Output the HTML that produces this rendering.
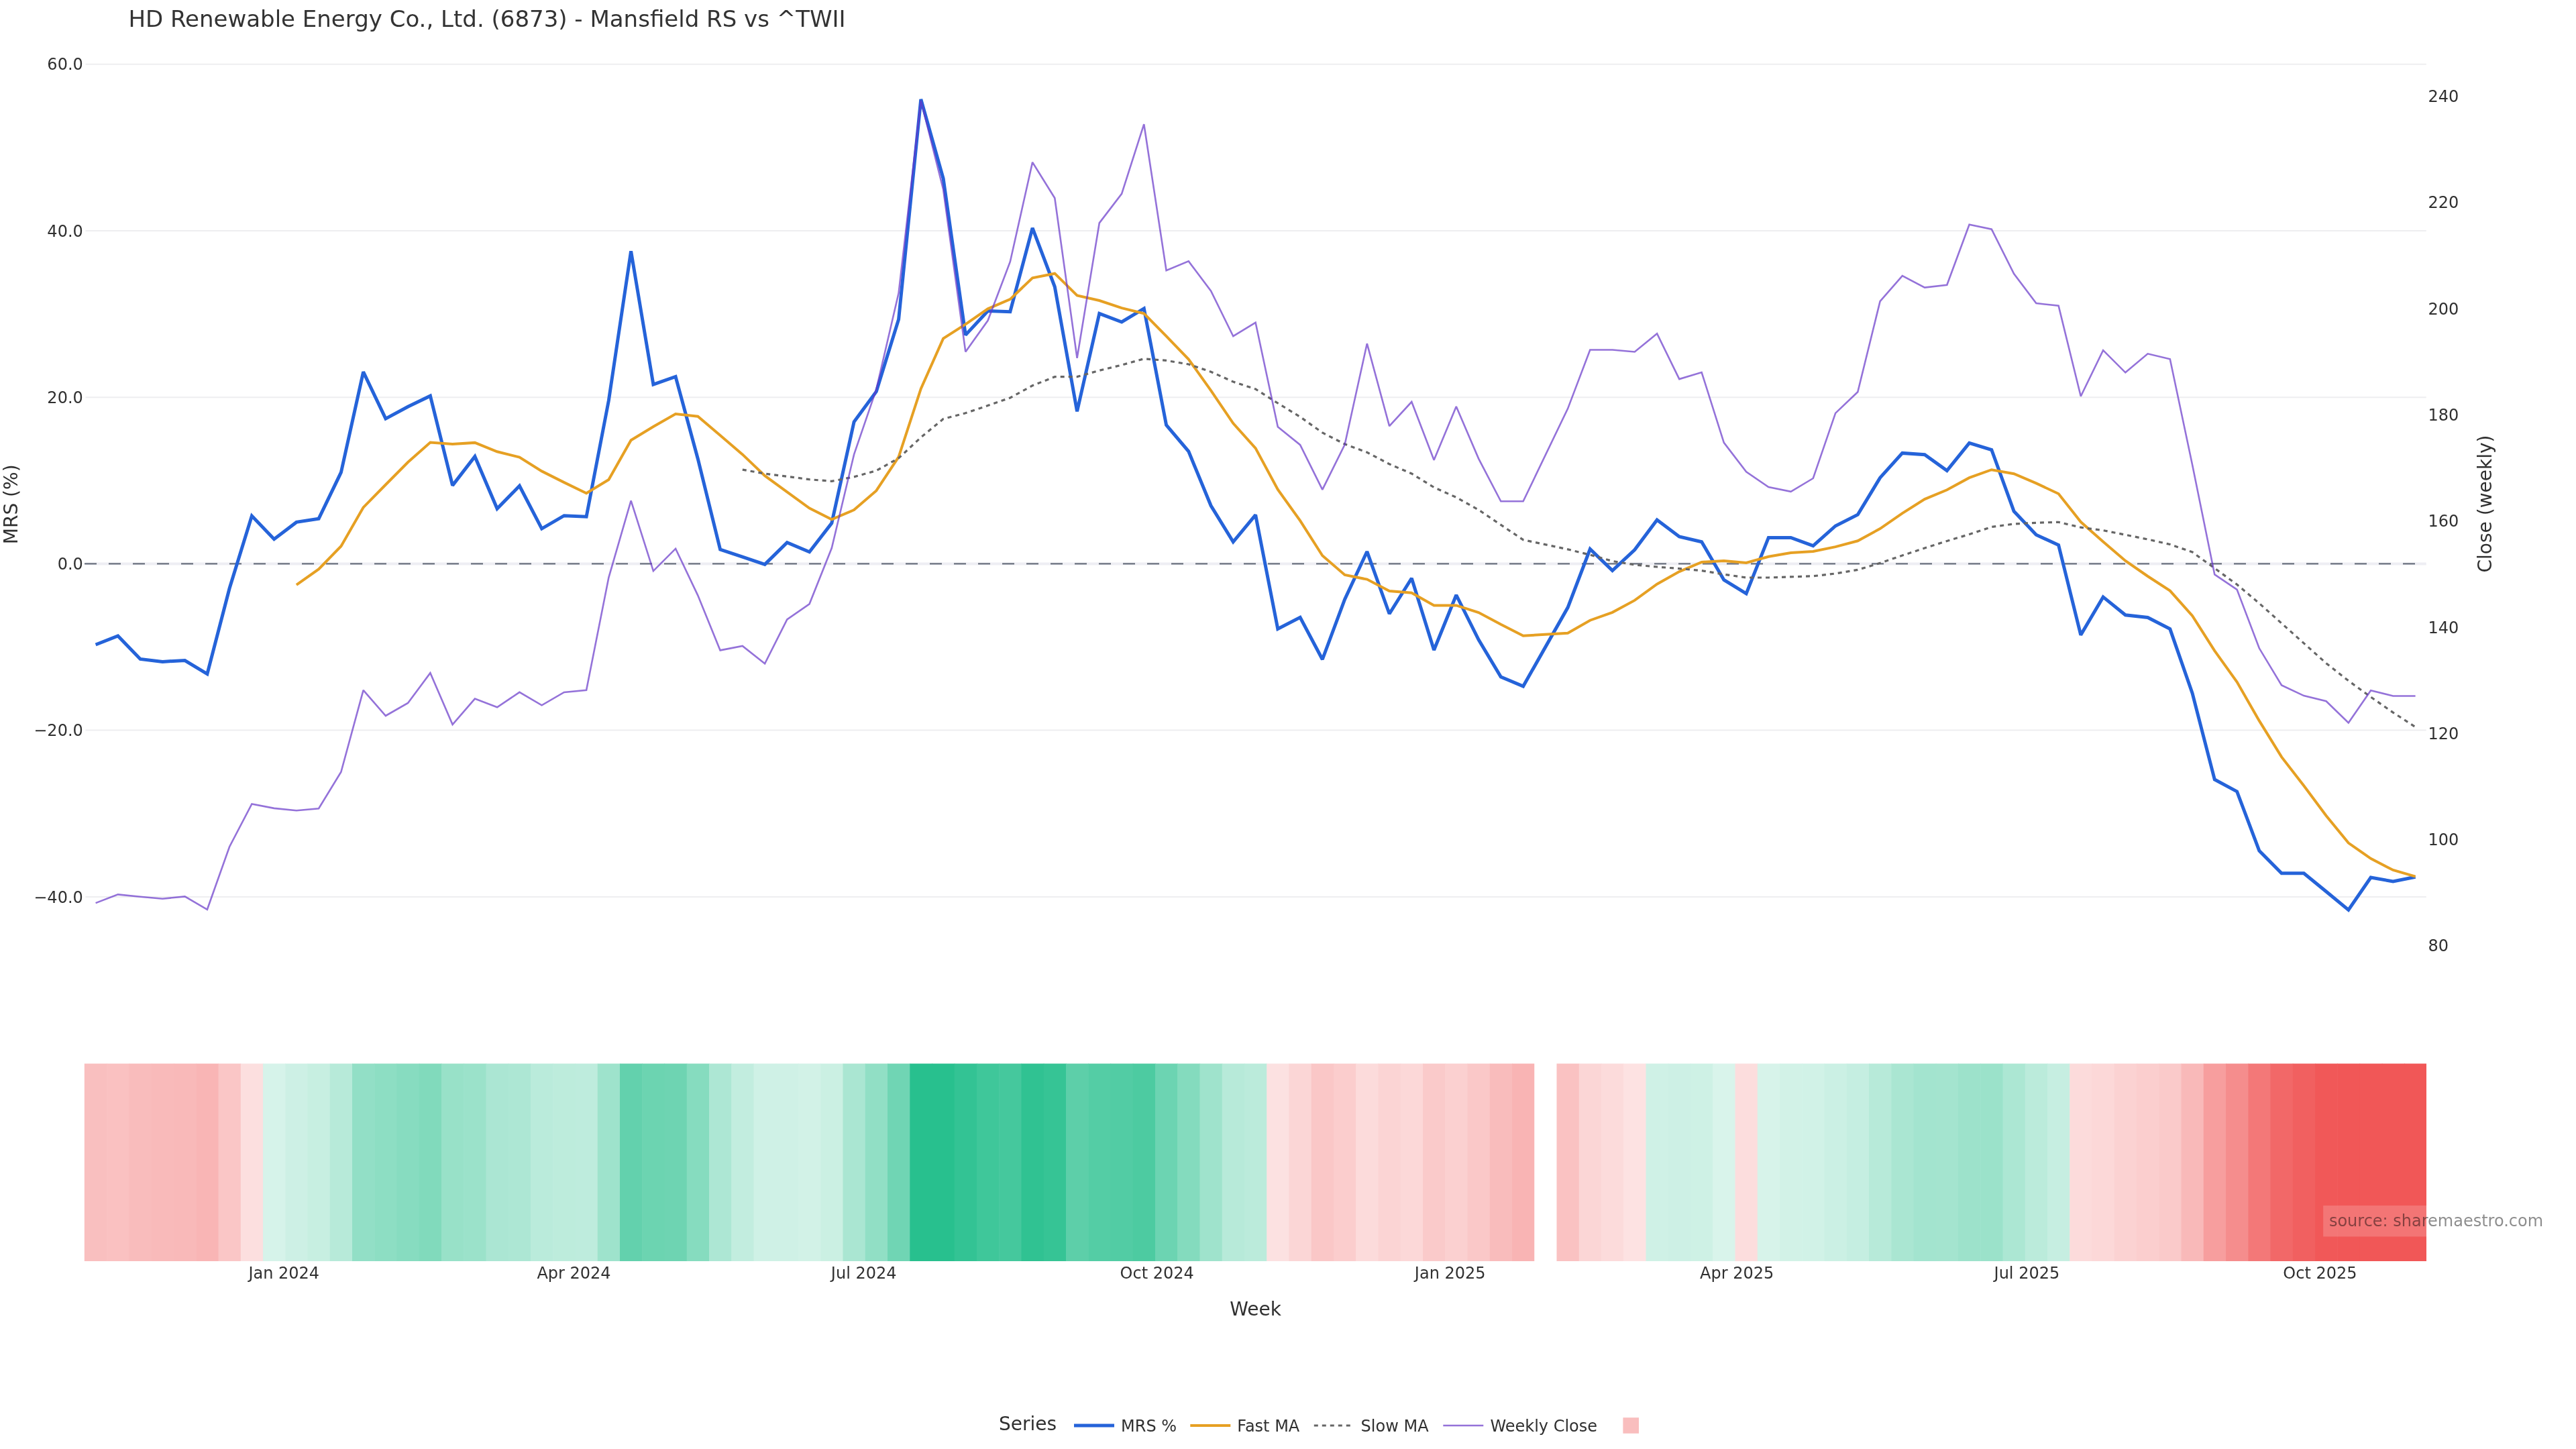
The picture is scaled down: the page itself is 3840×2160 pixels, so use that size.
<!DOCTYPE html>
<html lang="en"><head><meta charset="utf-8"><title>HD Renewable Energy Co., Ltd. (6873) - Mansfield RS vs ^TWII</title>
<style>html,body{margin:0;padding:0;background:#fff}svg{display:block;will-change:transform}text{font-family:"DejaVu Sans","Liberation Sans",sans-serif}</style></head><body>
<svg width="3840" height="2160" viewBox="0 0 3840 2160">
<rect width="3840" height="2160" fill="#fff"/>
<g>
<rect x="125.80" y="1585.5" width="34.05" height="294.5" fill="rgb(249,191,191)"/>
<rect x="159.25" y="1585.5" width="33.85" height="294.5" fill="rgb(250,193,193)"/>
<rect x="192.50" y="1585.5" width="33.85" height="294.5" fill="rgb(249,188,188)"/>
<rect x="225.75" y="1585.5" width="33.85" height="294.5" fill="rgb(249,186,186)"/>
<rect x="259.00" y="1585.5" width="33.85" height="294.5" fill="rgb(249,185,185)"/>
<rect x="292.25" y="1585.5" width="33.85" height="294.5" fill="rgb(249,181,181)"/>
<rect x="325.50" y="1585.5" width="33.85" height="294.5" fill="rgb(250,198,198)"/>
<rect x="358.75" y="1585.5" width="33.85" height="294.5" fill="rgb(252,223,223)"/>
<rect x="392.00" y="1585.5" width="33.85" height="294.5" fill="rgb(214,243,234)"/>
<rect x="425.25" y="1585.5" width="33.85" height="294.5" fill="rgb(205,240,229)"/>
<rect x="458.50" y="1585.5" width="33.85" height="294.5" fill="rgb(199,239,225)"/>
<rect x="491.75" y="1585.5" width="33.85" height="294.5" fill="rgb(183,234,217)"/>
<rect x="525.00" y="1585.5" width="33.85" height="294.5" fill="rgb(146,223,198)"/>
<rect x="558.25" y="1585.5" width="33.85" height="294.5" fill="rgb(141,222,195)"/>
<rect x="591.50" y="1585.5" width="33.85" height="294.5" fill="rgb(135,220,192)"/>
<rect x="624.75" y="1585.5" width="33.85" height="294.5" fill="rgb(129,218,188)"/>
<rect x="658.00" y="1585.5" width="33.85" height="294.5" fill="rgb(152,225,200)"/>
<rect x="691.25" y="1585.5" width="33.85" height="294.5" fill="rgb(155,226,202)"/>
<rect x="724.50" y="1585.5" width="33.85" height="294.5" fill="rgb(171,230,211)"/>
<rect x="757.75" y="1585.5" width="33.85" height="294.5" fill="rgb(173,231,212)"/>
<rect x="791.00" y="1585.5" width="33.85" height="294.5" fill="rgb(186,235,219)"/>
<rect x="824.25" y="1585.5" width="33.85" height="294.5" fill="rgb(189,236,220)"/>
<rect x="857.50" y="1585.5" width="33.85" height="294.5" fill="rgb(190,236,221)"/>
<rect x="890.75" y="1585.5" width="33.85" height="294.5" fill="rgb(158,227,204)"/>
<rect x="924.00" y="1585.5" width="33.85" height="294.5" fill="rgb(99,209,173)"/>
<rect x="957.25" y="1585.5" width="33.85" height="294.5" fill="rgb(108,212,177)"/>
<rect x="990.50" y="1585.5" width="33.85" height="294.5" fill="rgb(110,212,178)"/>
<rect x="1023.75" y="1585.5" width="33.85" height="294.5" fill="rgb(134,220,191)"/>
<rect x="1057.00" y="1585.5" width="33.85" height="294.5" fill="rgb(173,231,212)"/>
<rect x="1090.25" y="1585.5" width="33.85" height="294.5" fill="rgb(194,237,223)"/>
<rect x="1123.50" y="1585.5" width="33.85" height="294.5" fill="rgb(207,241,230)"/>
<rect x="1156.75" y="1585.5" width="33.85" height="294.5" fill="rgb(207,241,230)"/>
<rect x="1190.00" y="1585.5" width="33.85" height="294.5" fill="rgb(210,242,231)"/>
<rect x="1223.25" y="1585.5" width="33.85" height="294.5" fill="rgb(203,240,227)"/>
<rect x="1256.50" y="1585.5" width="33.85" height="294.5" fill="rgb(170,230,210)"/>
<rect x="1289.75" y="1585.5" width="33.85" height="294.5" fill="rgb(145,223,197)"/>
<rect x="1323.00" y="1585.5" width="33.85" height="294.5" fill="rgb(112,213,180)"/>
<rect x="1356.25" y="1585.5" width="33.85" height="294.5" fill="rgb(40,192,142)"/>
<rect x="1389.50" y="1585.5" width="33.85" height="294.5" fill="rgb(40,192,142)"/>
<rect x="1422.75" y="1585.5" width="33.85" height="294.5" fill="rgb(51,195,148)"/>
<rect x="1456.00" y="1585.5" width="33.85" height="294.5" fill="rgb(63,199,154)"/>
<rect x="1489.25" y="1585.5" width="33.85" height="294.5" fill="rgb(69,200,157)"/>
<rect x="1522.50" y="1585.5" width="33.85" height="294.5" fill="rgb(48,194,146)"/>
<rect x="1555.75" y="1585.5" width="33.85" height="294.5" fill="rgb(54,196,149)"/>
<rect x="1589.00" y="1585.5" width="33.85" height="294.5" fill="rgb(93,207,169)"/>
<rect x="1622.25" y="1585.5" width="33.85" height="294.5" fill="rgb(84,205,165)"/>
<rect x="1655.50" y="1585.5" width="33.85" height="294.5" fill="rgb(82,204,164)"/>
<rect x="1688.75" y="1585.5" width="33.85" height="294.5" fill="rgb(77,203,161)"/>
<rect x="1722.00" y="1585.5" width="33.85" height="294.5" fill="rgb(108,212,178)"/>
<rect x="1755.25" y="1585.5" width="33.85" height="294.5" fill="rgb(132,219,190)"/>
<rect x="1788.50" y="1585.5" width="33.85" height="294.5" fill="rgb(159,227,204)"/>
<rect x="1821.75" y="1585.5" width="33.85" height="294.5" fill="rgb(183,234,217)"/>
<rect x="1855.00" y="1585.5" width="33.85" height="294.5" fill="rgb(187,235,219)"/>
<rect x="1888.25" y="1585.5" width="33.85" height="294.5" fill="rgb(252,225,225)"/>
<rect x="1921.50" y="1585.5" width="33.85" height="294.5" fill="rgb(251,214,214)"/>
<rect x="1954.75" y="1585.5" width="33.85" height="294.5" fill="rgb(250,199,199)"/>
<rect x="1988.00" y="1585.5" width="33.85" height="294.5" fill="rgb(251,205,205)"/>
<rect x="2021.25" y="1585.5" width="33.85" height="294.5" fill="rgb(252,219,219)"/>
<rect x="2054.50" y="1585.5" width="33.85" height="294.5" fill="rgb(251,212,212)"/>
<rect x="2087.75" y="1585.5" width="33.85" height="294.5" fill="rgb(252,216,216)"/>
<rect x="2121.00" y="1585.5" width="33.85" height="294.5" fill="rgb(250,202,202)"/>
<rect x="2154.25" y="1585.5" width="33.85" height="294.5" fill="rgb(251,208,208)"/>
<rect x="2187.50" y="1585.5" width="33.85" height="294.5" fill="rgb(250,200,200)"/>
<rect x="2220.75" y="1585.5" width="33.85" height="294.5" fill="rgb(249,188,188)"/>
<rect x="2254.00" y="1585.5" width="33.25" height="294.5" fill="rgb(249,180,180)"/>
<rect x="2320.50" y="1585.5" width="33.85" height="294.5" fill="rgb(250,194,194)"/>
<rect x="2353.75" y="1585.5" width="33.85" height="294.5" fill="rgb(251,214,214)"/>
<rect x="2387.00" y="1585.5" width="33.85" height="294.5" fill="rgb(252,219,219)"/>
<rect x="2420.25" y="1585.5" width="33.85" height="294.5" fill="rgb(253,226,226)"/>
<rect x="2453.50" y="1585.5" width="33.85" height="294.5" fill="rgb(207,241,230)"/>
<rect x="2486.75" y="1585.5" width="33.85" height="294.5" fill="rgb(205,240,229)"/>
<rect x="2520.00" y="1585.5" width="33.85" height="294.5" fill="rgb(206,241,229)"/>
<rect x="2553.25" y="1585.5" width="33.85" height="294.5" fill="rgb(217,244,235)"/>
<rect x="2586.50" y="1585.5" width="33.85" height="294.5" fill="rgb(252,221,221)"/>
<rect x="2619.75" y="1585.5" width="33.85" height="294.5" fill="rgb(215,243,234)"/>
<rect x="2653.00" y="1585.5" width="33.85" height="294.5" fill="rgb(210,242,231)"/>
<rect x="2686.25" y="1585.5" width="33.85" height="294.5" fill="rgb(209,242,231)"/>
<rect x="2719.50" y="1585.5" width="33.85" height="294.5" fill="rgb(203,240,228)"/>
<rect x="2752.75" y="1585.5" width="33.85" height="294.5" fill="rgb(197,238,225)"/>
<rect x="2786.00" y="1585.5" width="33.85" height="294.5" fill="rgb(183,234,217)"/>
<rect x="2819.25" y="1585.5" width="33.85" height="294.5" fill="rgb(170,230,210)"/>
<rect x="2852.50" y="1585.5" width="33.85" height="294.5" fill="rgb(163,228,207)"/>
<rect x="2885.75" y="1585.5" width="33.85" height="294.5" fill="rgb(164,228,207)"/>
<rect x="2919.00" y="1585.5" width="33.85" height="294.5" fill="rgb(157,226,203)"/>
<rect x="2952.25" y="1585.5" width="33.85" height="294.5" fill="rgb(155,226,202)"/>
<rect x="2985.50" y="1585.5" width="33.85" height="294.5" fill="rgb(172,231,211)"/>
<rect x="3018.75" y="1585.5" width="33.85" height="294.5" fill="rgb(187,235,219)"/>
<rect x="3052.00" y="1585.5" width="33.85" height="294.5" fill="rgb(198,238,225)"/>
<rect x="3085.25" y="1585.5" width="33.85" height="294.5" fill="rgb(252,219,219)"/>
<rect x="3118.50" y="1585.5" width="33.85" height="294.5" fill="rgb(252,216,216)"/>
<rect x="3151.75" y="1585.5" width="33.85" height="294.5" fill="rgb(251,210,210)"/>
<rect x="3185.00" y="1585.5" width="33.85" height="294.5" fill="rgb(251,206,206)"/>
<rect x="3218.25" y="1585.5" width="33.85" height="294.5" fill="rgb(250,202,202)"/>
<rect x="3251.50" y="1585.5" width="33.85" height="294.5" fill="rgb(249,185,185)"/>
<rect x="3284.75" y="1585.5" width="33.85" height="294.5" fill="rgb(247,158,158)"/>
<rect x="3318.00" y="1585.5" width="33.85" height="294.5" fill="rgb(245,141,141)"/>
<rect x="3351.25" y="1585.5" width="33.85" height="294.5" fill="rgb(243,120,120)"/>
<rect x="3384.50" y="1585.5" width="33.85" height="294.5" fill="rgb(242,104,104)"/>
<rect x="3417.75" y="1585.5" width="33.85" height="294.5" fill="rgb(241,96,96)"/>
<rect x="3451.00" y="1585.5" width="33.85" height="294.5" fill="rgb(241,88,88)"/>
<rect x="3484.25" y="1585.5" width="33.85" height="294.5" fill="rgb(241,87,87)"/>
<rect x="3517.50" y="1585.5" width="33.85" height="294.5" fill="rgb(241,87,87)"/>
<rect x="3550.75" y="1585.5" width="33.85" height="294.5" fill="rgb(241,87,87)"/>
<rect x="3584.00" y="1585.5" width="33.00" height="294.5" fill="rgb(241,87,87)"/>
</g>
<line x1="127.5" x2="3616.75" y1="95.7" y2="95.7" stroke="#eeeef0" stroke-width="2"/>
<line x1="127.5" x2="3616.75" y1="343.9" y2="343.9" stroke="#eeeef0" stroke-width="2"/>
<line x1="127.5" x2="3616.75" y1="592.2" y2="592.2" stroke="#eeeef0" stroke-width="2"/>
<line x1="127.5" x2="3616.75" y1="840.4" y2="840.4" stroke="#eeeef3" stroke-width="4"/>
<line x1="127.5" x2="3616.75" y1="1088.6" y2="1088.6" stroke="#eeeef0" stroke-width="2"/>
<line x1="127.5" x2="3616.75" y1="1336.9" y2="1336.9" stroke="#eeeef0" stroke-width="2"/>
<line x1="126.0" x2="3617.25" y1="840.4" y2="840.4" stroke="#6b7280" stroke-width="2.4" stroke-dasharray="18,18"/>
<polyline fill="none" stroke="#2563d9" stroke-width="5" stroke-linejoin="miter" stroke-miterlimit="2" points="142.6,961.0 175.8,948.0 209.1,982.4 242.3,986.4 275.6,984.5 308.9,1004.7 342.1,877.0 375.4,769.1 408.6,803.7 441.9,778.4 475.1,773.2 508.4,704.2 541.6,554.4 574.9,624.1 608.1,606.2 641.4,590.2 674.6,723.6 707.9,680.4 741.1,758.3 774.4,724.3 807.6,788.1 840.9,768.7 874.1,770.2 907.4,596.9 940.6,374.4 973.9,573.2 1007.1,561.5 1040.3,684.0 1073.6,819.0 1106.8,830.2 1140.1,841.4 1173.3,808.6 1206.6,822.7 1239.8,779.9 1273.1,628.8 1306.3,583.7 1339.6,475.9 1372.8,148.0 1406.1,266.0 1439.3,499.4 1472.6,463.6 1505.8,464.7 1539.1,339.9 1572.3,427.5 1605.6,613.3 1638.8,467.3 1672.1,480.0 1705.3,459.9 1738.6,633.6 1771.8,672.9 1805.1,753.8 1838.3,807.8 1871.6,767.6 1904.8,937.5 1938.1,920.4 1971.3,983.0 2004.6,893.5 2037.8,822.2 2071.1,915.0 2104.3,862.0 2137.6,969.0 2170.8,887.0 2204.1,953.5 2237.3,1009.0 2270.6,1023.0 2337.1,905.6 2370.3,818.5 2403.6,850.6 2436.8,819.6 2470.1,774.9 2503.3,799.9 2536.6,807.7 2569.8,864.4 2603.1,884.8 2636.3,801.4 2669.6,801.4 2702.8,813.6 2736.1,784.0 2769.3,767.2 2802.6,712.2 2835.8,675.4 2869.1,677.7 2902.3,701.6 2935.6,660.4 2968.8,670.5 3002.1,762.1 3035.3,797.2 3068.6,812.4 3101.8,946.6 3135.1,889.9 3168.3,916.8 3201.6,920.5 3234.8,937.6 3268.1,1033.4 3301.3,1162.0 3334.6,1179.9 3367.8,1268.2 3401.1,1301.7 3434.3,1301.7 3467.6,1329.0 3500.8,1356.4 3534.1,1308.0 3567.3,1314.0 3600.6,1307.2"/>
<polyline fill="none" stroke="#e6a023" stroke-width="4" stroke-linejoin="miter" stroke-miterlimit="2" points="441.9,871.9 475.1,848.5 508.4,814.2 541.6,756.4 574.9,722.5 608.1,689.0 641.4,659.5 674.6,662.1 707.9,659.9 741.1,673.3 774.4,681.5 807.6,702.4 840.9,719.1 874.1,735.2 907.4,715.0 940.6,656.2 973.9,636.0 1007.1,617.0 1040.3,620.7 1073.6,649.0 1106.8,677.4 1140.1,709.1 1173.3,733.3 1206.6,757.5 1239.8,774.3 1273.1,760.1 1306.3,731.4 1339.6,681.1 1372.8,579.5 1406.1,504.6 1439.3,483.4 1472.6,460.3 1505.8,446.1 1539.1,414.4 1572.3,407.7 1605.6,440.5 1638.8,448.0 1672.1,459.1 1705.3,467.3 1738.6,501.2 1771.8,535.5 1805.1,582.1 1838.3,631.0 1871.6,668.1 1904.8,729.6 1938.1,776.2 1971.3,828.3 2004.6,857.0 2037.8,863.6 2071.1,881.1 2104.3,883.7 2137.6,902.4 2170.8,902.4 2204.1,913.0 2237.3,930.8 2270.6,947.7 2337.1,943.8 2370.3,924.7 2403.6,912.8 2436.8,894.9 2470.1,870.7 2503.3,852.1 2536.6,837.9 2569.8,836.0 2603.1,839.0 2636.3,829.7 2669.6,824.1 2702.8,821.9 2736.1,815.1 2769.3,806.3 2802.6,788.1 2835.8,765.1 2869.1,744.1 2902.3,730.3 2935.6,712.2 2968.8,700.2 3002.1,706.2 3035.3,720.4 3068.6,736.0 3101.8,778.0 3135.1,807.5 3168.3,836.0 3201.6,859.0 3234.8,880.6 3268.1,917.9 3301.3,970.1 3334.6,1016.6 3367.8,1074.4 3401.1,1128.4 3434.3,1171.3 3467.6,1216.0 3500.8,1256.6 3534.1,1279.8 3567.3,1297.0 3600.6,1306.6"/>
<polyline fill="none" stroke="#666666" stroke-width="3.2" stroke-dasharray="6,6" stroke-linejoin="miter" stroke-miterlimit="2" points="1106.8,700.1 1140.1,706.1 1173.3,710.2 1206.6,714.7 1239.8,717.3 1273.1,710.9 1306.3,701.6 1339.6,683.0 1372.8,652.0 1406.1,624.5 1439.3,615.8 1472.6,604.6 1505.8,593.0 1539.1,574.8 1572.3,561.7 1605.6,561.6 1638.8,552.3 1672.1,544.1 1705.3,534.8 1738.6,537.4 1771.8,543.0 1805.1,554.2 1838.3,569.1 1871.6,580.0 1904.8,601.0 1938.1,621.4 1971.3,645.0 2004.6,662.0 2037.8,674.3 2071.1,691.8 2104.3,706.0 2137.6,726.5 2170.8,741.4 2204.1,760.0 2237.3,782.4 2270.6,804.7 2337.1,818.9 2370.3,827.1 2403.6,836.4 2436.8,842.0 2470.1,845.0 2503.3,847.6 2536.6,850.6 2569.8,856.2 2603.1,861.0 2636.3,861.0 2669.6,859.9 2702.8,858.8 2736.1,855.0 2769.3,849.4 2802.6,839.3 2835.8,828.0 2869.1,817.0 2902.3,806.5 2935.6,796.5 2968.8,785.5 3002.1,781.0 3035.3,779.3 3068.6,778.3 3101.8,786.2 3135.1,790.6 3168.3,797.2 3201.6,804.0 3234.8,811.5 3268.1,823.0 3301.3,847.1 3334.6,871.3 3367.8,899.3 3401.1,929.1 3434.3,958.9 3467.6,988.7 3500.8,1014.8 3534.1,1039.0 3567.3,1062.1 3600.6,1083.7"/>
<polyline fill="none" stroke="rgb(102,54,201)" stroke-opacity="0.7" stroke-width="2.6" stroke-linejoin="miter" stroke-miterlimit="2" points="142.6,1346.1 175.8,1333.4 209.1,1336.8 242.3,1339.7 275.6,1336.4 308.9,1355.8 342.1,1262.2 375.4,1198.5 408.6,1204.9 441.9,1208.2 475.1,1205.2 508.4,1150.8 541.6,1028.9 574.9,1067.0 608.1,1048.0 641.4,1003.2 674.6,1080.0 707.9,1041.6 741.1,1054.3 774.4,1031.9 807.6,1051.3 840.9,1031.9 874.1,1028.7 907.4,860.8 940.6,746.3 973.9,851.1 1007.1,817.9 1040.3,887.6 1073.6,969.4 1106.8,962.9 1140.1,989.3 1173.3,923.4 1206.6,900.3 1239.8,817.1 1273.1,677.4 1306.3,580.4 1339.6,436.8 1372.8,149.8 1406.1,282.5 1439.3,524.4 1472.6,477.8 1505.8,390.2 1539.1,241.9 1572.3,295.2 1605.6,533.7 1638.8,332.4 1672.1,288.8 1705.3,185.2 1738.6,403.2 1771.8,389.4 1805.1,433.8 1838.3,501.2 1871.6,480.8 1904.8,636.3 1938.1,663.2 1971.3,729.9 2004.6,662.8 2037.8,512.2 2071.1,635.2 2104.3,599.0 2137.6,685.8 2170.8,606.1 2204.1,683.6 2237.3,747.3 2270.6,747.3 2337.1,609.1 2370.3,521.5 2403.6,521.5 2436.8,524.5 2470.1,497.3 2503.3,565.1 2536.6,555.0 2569.8,659.8 2603.1,703.4 2636.3,726.1 2669.6,732.8 2702.8,713.0 2736.1,615.9 2769.3,584.3 2802.6,449.1 2835.8,411.1 2869.1,428.6 2902.3,424.8 2935.6,334.7 2968.8,341.7 3002.1,408.1 3035.3,452.1 3068.6,455.8 3101.8,590.7 3135.1,522.1 3168.3,555.3 3201.6,527.3 3234.8,535.2 3268.1,693.0 3301.3,856.4 3334.6,878.8 3367.8,966.3 3401.1,1021.5 3434.3,1037.1 3467.6,1045.3 3500.8,1077.4 3534.1,1029.3 3567.3,1037.5 3600.6,1037.5"/>
<text x="191.4" y="40.1" font-size="34" fill="#333">HD Renewable Energy Co., Ltd. (6873) - Mansfield RS vs ^TWII</text>
<text x="123.8" y="104.3" font-size="24" text-anchor="end" fill="#303030">60.0</text>
<text x="123.8" y="352.5" font-size="24" text-anchor="end" fill="#303030">40.0</text>
<text x="123.8" y="600.8" font-size="24" text-anchor="end" fill="#303030">20.0</text>
<text x="123.8" y="849.0" font-size="24" text-anchor="end" fill="#303030">0.0</text>
<text x="123.8" y="1097.2" font-size="24" text-anchor="end" fill="#303030">−20.0</text>
<text x="123.8" y="1345.5" font-size="24" text-anchor="end" fill="#303030">−40.0</text>
<text x="3619.4" y="152.2" font-size="24" fill="#303030">240</text>
<text x="3619.4" y="310.4" font-size="24" fill="#303030">220</text>
<text x="3619.4" y="468.7" font-size="24" fill="#303030">200</text>
<text x="3619.4" y="627.0" font-size="24" fill="#303030">180</text>
<text x="3619.4" y="785.2" font-size="24" fill="#303030">160</text>
<text x="3619.4" y="943.5" font-size="24" fill="#303030">140</text>
<text x="3619.4" y="1101.7" font-size="24" fill="#303030">120</text>
<text x="3619.4" y="1260.0" font-size="24" fill="#303030">100</text>
<text x="3619.4" y="1418.2" font-size="24" fill="#303030">80</text>
<text transform="translate(26,751.8) rotate(-90)" font-size="28" text-anchor="middle" fill="#303030">MRS (%)</text>
<text transform="translate(3713.9,751) rotate(-90)" font-size="28" text-anchor="middle" fill="#303030">Close (weekly)</text>
<text x="423.3" y="1906.3" font-size="24" text-anchor="middle" fill="#303030">Jan 2024</text>
<text x="855.5" y="1906.3" font-size="24" text-anchor="middle" fill="#303030">Apr 2024</text>
<text x="1287.7" y="1906.3" font-size="24" text-anchor="middle" fill="#303030">Jul 2024</text>
<text x="1724.7" y="1906.3" font-size="24" text-anchor="middle" fill="#303030">Oct 2024</text>
<text x="2161.7" y="1906.3" font-size="24" text-anchor="middle" fill="#303030">Jan 2025</text>
<text x="2589.2" y="1906.3" font-size="24" text-anchor="middle" fill="#303030">Apr 2025</text>
<text x="3021.4" y="1906.3" font-size="24" text-anchor="middle" fill="#303030">Jul 2025</text>
<text x="3458.4" y="1906.3" font-size="24" text-anchor="middle" fill="#303030">Oct 2025</text>
<text x="1871.5" y="1961" font-size="28" text-anchor="middle" fill="#303030">Week</text>
<rect x="3463.2" y="1797.1" width="336" height="46.3" fill="#fff" fill-opacity="0.18"/>
<text x="3471.9" y="1827.5" font-size="24" fill="#000" fill-opacity="0.45">source: sharemaestro.com</text>
<text x="1489" y="2132" font-size="28" fill="#303030">Series</text>
<line x1="1601" x2="1661" y1="2125" y2="2125" stroke="#2563d9" stroke-width="5"/>
<text x="1671" y="2134.4" font-size="24" fill="#303030">MRS %</text>
<line x1="1774.3" x2="1834.3" y1="2125" y2="2125" stroke="#e6a023" stroke-width="4"/>
<text x="1844.3" y="2134.4" font-size="24" fill="#303030">Fast MA</text>
<line x1="1958.8" x2="2018.8" y1="2125" y2="2125" stroke="#666666" stroke-width="3.2" stroke-dasharray="6,6"/>
<text x="2028.6" y="2134.4" font-size="24" fill="#303030">Slow MA</text>
<line x1="2151.3" x2="2211.3" y1="2125" y2="2125" stroke="rgb(102,54,201)" stroke-opacity="0.7" stroke-width="2.6"/>
<text x="2221.4" y="2134.4" font-size="24" fill="#303030">Weekly Close</text>
<rect x="2419.4" y="2113.2" width="23.6" height="23.6" fill="rgb(249,190,190)"/>
</svg></body></html>
